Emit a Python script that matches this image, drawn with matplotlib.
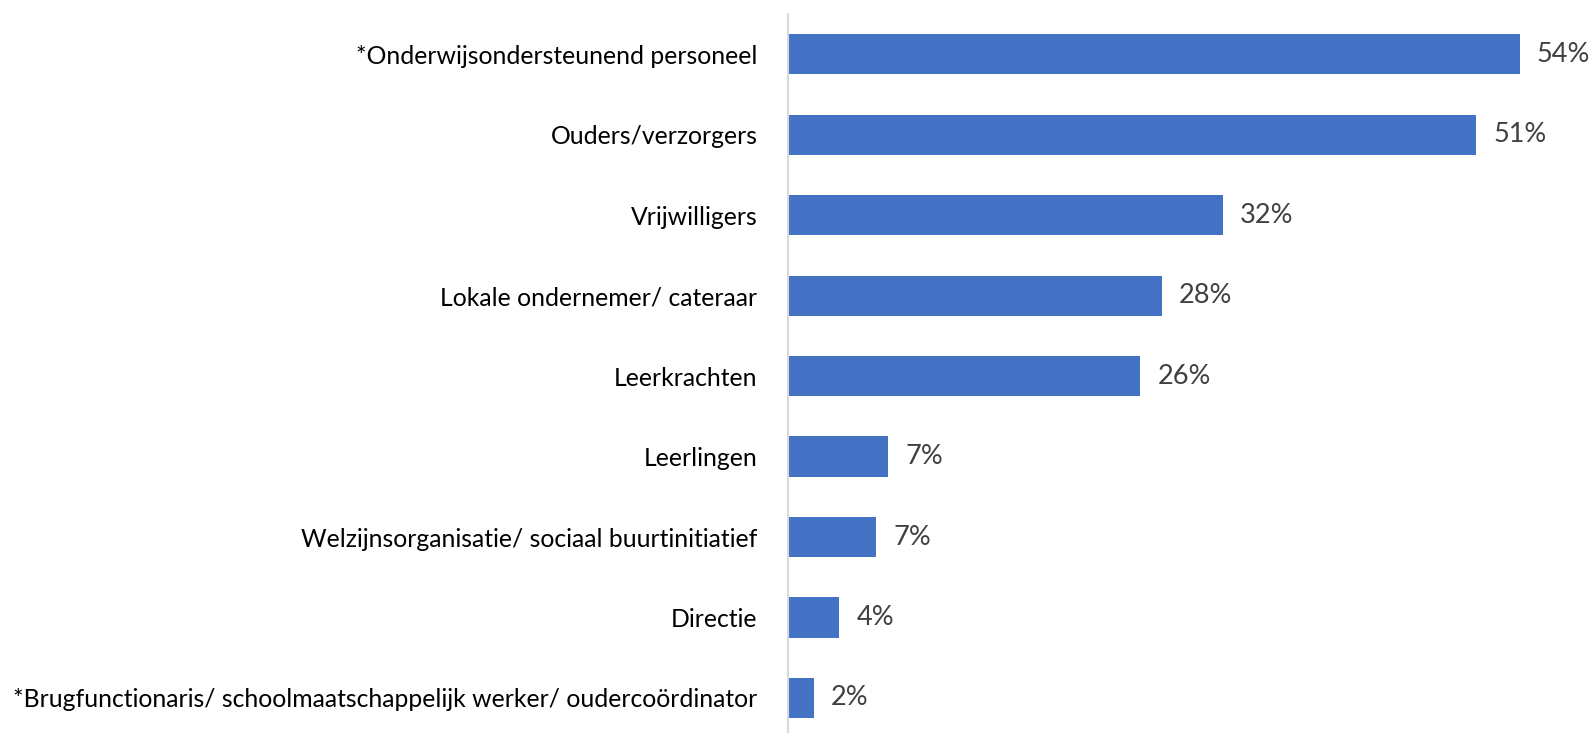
import matplotlib
matplotlib.use("Agg")
import matplotlib.pyplot as plt

# categories, top to bottom
categories = [
    "*Onderwijsondersteunend personeel",
    "Ouders/verzorgers",
    "Vrijwilligers",
    "Lokale ondernemer/ cateraar",
    "Leerkrachten",
    "Leerlingen",
    "Welzijnsorganisatie/ sociaal buurtinitiatief",
    "Directie",
    "*Brugfunctionaris/ schoolmaatschappelijk werker/ oudercoördinator",
]
# share (%)
values = [54.0, 50.8, 32.1, 27.6, 26.0, 7.4, 6.5, 3.8, 1.9]
value_labels = ["54%", "51%", "32%", "28%", "26%", "7%", "7%", "4%", "2%"]

plt.rcParams['font.family'] = ['Lato', 'DejaVu Sans']

W, H = 1592, 733
fig = plt.figure(figsize=(W / 100, H / 100), dpi=100)
# axes: left edge at the vertical axis line, top at y=14 px
ax = fig.add_axes([788 / W, 0, (1592 - 788) / W, (H - 14) / H])

pos = list(range(len(categories)))
ax.barh(pos, values, height=0.5, color='#4472C4')

ax.set_ylim(8.435, -0.5)
ax.set_xlim(0, 804 / 13.55)

for p, v, lab in zip(pos, values, value_labels):
    ax.annotate(lab, xy=(v, p), xytext=(17, 0), textcoords='offset pixels',
                va='center', ha='left', fontsize=19.5, color='#404040')

ax.set_yticks(pos)
ax.set_yticklabels(categories, fontsize=17.8, color='black')
ax.tick_params(axis='y', length=0, pad=22)
ax.set_xticks([])

for s in ['top', 'right', 'bottom']:
    ax.spines[s].set_visible(False)
ax.spines['left'].set_color('#d9d9d9')
ax.spines['left'].set_linewidth(1.5)

fig.savefig("out.png", dpi=100)
